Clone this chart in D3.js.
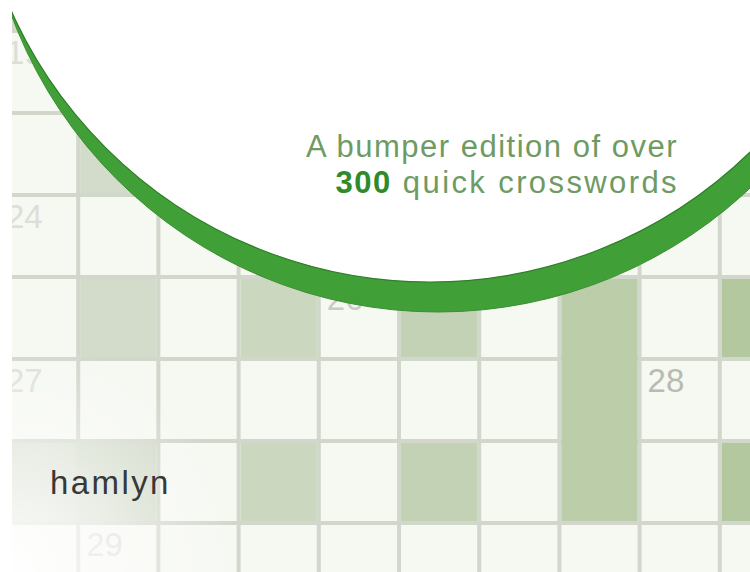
<!DOCTYPE html>
<html>
<head>
<meta charset="utf-8">
<script src="https://cdn.jsdelivr.net/npm/d3@7"></script>
<style>
  body { margin: 0; background: #fff; }
</style>
</head>
<body>
<div id="chart"></div>
<script>
// grid: 10 columns x 7 rows, shaded cells as [row, col]
let nCols = 10
let nRows = 7
let shadedCells = [[1,1],[3,1],[3,3],[3,5],[3,7],[3,9],[4,7],[5,0],[5,1],[5,3],[5,5],[5,7],[5,9]]

// clue numbers printed in the cells
let clueLabels = ["19", "24", "26", "27", "28", "29"]
let clueRows   = [0, 2, 3, 4, 4, 6]
let clueCols   = [0, 0, 4, 0, 8, 1]

// cover text
let taglineTop = "A bumper edition of over"
let taglineBold = "300"
let taglineRest = " quick crosswords"
let publisher = "hamlyn"

let width = 750
let height = 572

let svg = d3.select("#chart")
  .append("svg")
  .attr("width", width)
  .attr("height", height)

let x = d3.scaleLinear().domain([0, nCols]).range([-2, 800])
let y = d3.scaleLinear().domain([0, nRows]).range([31, 605])

let shadeColor = d3.scaleLinear().domain([100, 735]).range(["#d4dccb", "#b4c9a0"])
let numColor = d3.scaleLinear().domain([0, 700]).range(["#dcdfd7", "#b3b8ae"])

let defs = svg.append("defs")
let wash = defs.append("radialGradient")
  .attr("id", "wash")
  .attr("gradientUnits", "userSpaceOnUse")
  .attr("cx", 10).attr("cy", 570).attr("r", 230)
wash.append("stop").attr("offset", "0%").attr("stop-color", "#fff").attr("stop-opacity", 0.9)
wash.append("stop").attr("offset", "45%").attr("stop-color", "#fff").attr("stop-opacity", 0.55)
wash.append("stop").attr("offset", "100%").attr("stop-color", "#fff").attr("stop-opacity", 0)

// grid lines show through the gaps between cells
svg.append("rect")
  .attr("x", 0).attr("y", 0)
  .attr("width", width).attr("height", height)
  .attr("fill", "#d2d7cc")

let cells = []
d3.range(nRows).forEach(r => d3.range(nCols).forEach(c => cells.push({r, c})))

let isShaded = (r, c) => shadedCells.some(s => s[0] === r && s[1] === c)
let gap = 2

svg.append("g")
  .selectAll("rect")
  .data(cells)
  .enter().append("rect")
    .attr("x", d => x(d.c) + gap)
    .attr("y", d => y(d.r) + gap)
    .attr("width", d => x(d.c + 1) - x(d.c) - 2 * gap)
    .attr("height", d => y(d.r + 1) - y(d.r) - 2 * gap)
    .attr("fill", "#f6f8f2")

// shaded cells join up with shaded neighbours
svg.append("g")
  .selectAll("rect")
  .data(shadedCells)
  .enter().append("rect")
    .attr("x", d => x(d[1]) + (isShaded(d[0], d[1] - 1) ? -gap : gap))
    .attr("y", d => y(d[0]) + (isShaded(d[0] - 1, d[1]) ? -gap : gap))
    .attr("width", d => x(d[1] + 1) - x(d[1]) - (isShaded(d[0], d[1] - 1) ? -gap : gap) - (isShaded(d[0], d[1] + 1) ? -gap : gap))
    .attr("height", d => y(d[0] + 1) - y(d[0]) - (isShaded(d[0] - 1, d[1]) ? -gap : gap) - (isShaded(d[0] + 1, d[1]) ? -gap : gap))
    .attr("fill", d => shadeColor((x(d[1]) + x(d[1] + 1)) / 2))

svg.append("g")
  .style("font", "33px 'Liberation Sans', Arial, sans-serif")
  .selectAll("text")
  .data(clueLabels)
  .enter().append("text")
    .attr("x", (d, i) => x(clueCols[i]) + 8)
    .attr("y", (d, i) => y(clueRows[i]) + 33)
    .attr("fill", (d, i) => numColor(x(clueCols[i])))
    .text(d => d)

// white wash over the bottom left corner
svg.append("rect")
  .attr("x", 0).attr("y", 300)
  .attr("width", 400).attr("height", 272)
  .attr("fill", "url(#wash)")

// green crescent: outer green disc, inner white disc
svg.append("circle")
  .attr("cx", 438).attr("cy", -143).attr("r", 455)
  .attr("fill", "#40a037")
  .attr("stroke", "#3a8f32")
  .attr("stroke-width", 1)

svg.append("circle")
  .attr("cx", 430).attr("cy", -177).attr("r", 459)
  .attr("fill", "#ffffff")
  .attr("stroke", "#2f7d29")
  .attr("stroke-width", 1.2)

// white strip on the left edge
svg.append("rect")
  .attr("x", 0).attr("y", 0)
  .attr("width", 12).attr("height", height)
  .attr("fill", "#ffffff")

let tag = svg.append("g")
  .attr("text-anchor", "end")
  .style("font", "31px 'Liberation Sans', Arial, sans-serif")

tag.append("text")
  .attr("x", 678)
  .attr("y", 157)
  .attr("fill", "#6e9a63")
  .style("letter-spacing", "1.5px")
  .text(taglineTop)

let line2 = tag.append("text")
  .attr("x", 679)
  .attr("y", 193)
  .attr("fill", "#6e9a63")
  .style("letter-spacing", "2.4px")

line2.append("tspan")
  .attr("fill", "#2f8a2b")
  .attr("font-weight", "bold")
  .style("letter-spacing", "1.5px")
  .text(taglineBold)

line2.append("tspan")
  .text(taglineRest)

svg.append("text")
  .attr("x", 50)
  .attr("y", 494)
  .attr("fill", "#383838")
  .style("font", "33px 'Liberation Sans', Arial, sans-serif")
  .style("letter-spacing", "2.4px")
  .text(publisher)
</script>
</body>
</html>
